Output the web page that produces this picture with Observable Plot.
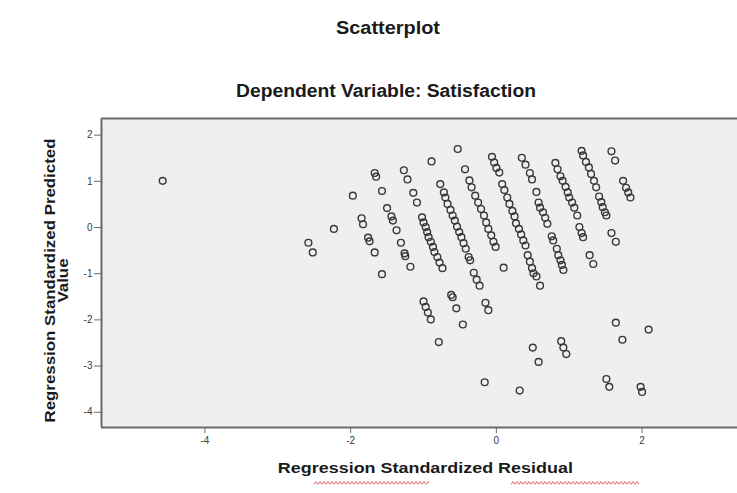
<!DOCTYPE html>
<html>
<head>
<meta charset="utf-8">
<script src="https://cdn.jsdelivr.net/npm/d3@7"></script>
<script src="https://cdn.jsdelivr.net/npm/@observablehq/plot@0.6"></script>
<style>
  html, body { margin: 0; padding: 0; background: #ffffff; }
  #wrap { position: relative; width: 737px; height: 493px; overflow: hidden; font-family: "Liberation Sans", Arial, sans-serif; }
  #wrap svg { position: absolute; left: 0; top: 0; }
  .lbl { position: absolute; font-weight: bold; color: #1a1a1a; white-space: nowrap; line-height: 1; }
  .sq { position: absolute; height: 4px; opacity: 0.85;
        background-image: url("data:image/svg+xml;utf8,<svg xmlns='http://www.w3.org/2000/svg' width='4' height='4'><polyline points='0,3.5 2,0.5 4,3.5' fill='none' stroke='%23d03c3c' stroke-width='0.9'/></svg>");
        background-repeat: repeat-x; }
</style>
</head>
<body>
<div id="wrap"></div>
<script>
// ---- Text ----
const titleText = "Scatterplot";
const subtitleText = "Dependent Variable: Satisfaction";
const xLabelText = "Regression Standardized Residual";
const yLabelLines = ["Regression Standardized Predicted", "Value"];

// ---- Axis ticks ----
const xTicks = [-4, -2, 0, 2];
const yTicks = [2, 1, 0, -1, -2, -3, -4];
const xDomain = [-5.42, 3.31];
const yDomain = [-4.33, 2.36];

// ---- Data: regression standardized residual (x) and standardized predicted value (y) ----
const residual = [
  // scattered, left
  -4.58, -2.58, -2.52, -2.23, -1.97, -1.67, -1.65, -1.85, -1.83, -1.76, -1.74, -1.67, -1.57, -1.50,
  -1.44, -1.42, -1.37, -1.31, -1.26, -1.25, -1.18, -1.57, -1.27, -1.22, -1.14, -1.09, -0.89, -0.53,
  // band A
  -1.02, -1.00, -0.97, -0.95, -0.93, -0.90, -0.87, -0.85, -0.81, -0.78, -0.74,
  // band B
  -0.77, -0.72, -0.70, -0.67, -0.63, -0.60, -0.57, -0.54, -0.51, -0.48, -0.45, -0.42, -0.38, -0.36,
  -0.31, -0.27, -0.23,
  // band C
  -0.43, -0.37, -0.34, -0.29, -0.25, -0.21, -0.17, -0.14, -0.11, -0.07, -0.04, -0.01, 0.10,
  // band D
  -0.06, -0.03, 0.00, 0.04, 0.08, 0.11, 0.15, 0.18, 0.22, 0.25, 0.27, 0.31, 0.34, 0.37, 0.40, 0.43,
  0.46, 0.49, 0.51, 0.55, 0.60,
  // band E
  0.35, 0.40, 0.46, 0.49, 0.55, 0.58, 0.60, 0.64, 0.67, 0.70, 0.76, 0.78, 0.83, 0.85, 0.88, 0.90, 0.92,
  // band F
  0.81, 0.84, 0.88, 0.91, 0.95, 0.98, 1.00, 1.04, 1.07, 1.11, 1.14, 1.17, 1.19, 1.28, 1.33,
  // band G
  1.17, 1.19, 1.23, 1.27, 1.30, 1.34, 1.37, 1.41, 1.44, 1.46, 1.49, 1.51,
  // right
  1.58, 1.63, 1.74, 1.78, 1.81, 1.84, 1.58, 1.64,
  // lower
  -1.00, -0.97, -0.94, -0.90, -0.79, -0.62, -0.60, -0.55, -0.46, -0.15, -0.11, -0.16, 0.50, 0.58,
  0.32, 0.89, 0.92, 0.96, 1.51, 1.55, 1.64, 1.73, 2.09, 1.98, 2.00
];
const predicted = [
  // scattered, left
  1.01, -0.33, -0.54, -0.03, 0.69, 1.18, 1.10, 0.20, 0.07, -0.22, -0.30, -0.54, 0.79, 0.42,
  0.24, 0.15, -0.06, -0.33, -0.56, -0.62, -0.85, -1.01, 1.24, 1.04, 0.75, 0.54, 1.43, 1.70,
  // band A
  0.22, 0.11, 0.01, -0.10, -0.21, -0.31, -0.42, -0.53, -0.64, -0.76, -0.88,
  // band B
  0.94, 0.76, 0.65, 0.51, 0.38, 0.26, 0.15, 0.02, -0.10, -0.21, -0.34, -0.46, -0.64, -0.71,
  -0.98, -1.13, -1.26,
  // band C
  1.26, 1.02, 0.87, 0.69, 0.54, 0.40, 0.26, 0.11, -0.03, -0.17, -0.31, -0.42, -0.87,
  // band D
  1.53, 1.41, 1.29, 1.19, 0.94, 0.81, 0.65, 0.51, 0.36, 0.24, 0.09, -0.03, -0.15, -0.28, -0.39, -0.60,
  -0.74, -0.88, -0.99, -1.06, -1.26,
  // band E
  1.51, 1.36, 1.18, 1.04, 0.77, 0.54, 0.43, 0.33, 0.21, 0.08, -0.19, -0.28, -0.46, -0.60, -0.71, -0.81, -0.92,
  // band F
  1.40, 1.26, 1.11, 1.01, 0.88, 0.76, 0.65, 0.54, 0.43, 0.26, 0.01, -0.12, -0.21, -0.60, -0.79,
  // band G
  1.66, 1.56, 1.42, 1.30, 1.16, 1.01, 0.87, 0.67, 0.55, 0.44, 0.33, 0.26,
  // right
  1.65, 1.45, 1.01, 0.86, 0.76, 0.65, -0.12, -0.31,
  // lower
  -1.60, -1.72, -1.84, -1.99, -2.48, -1.46, -1.51, -1.75, -2.10, -1.63, -1.79, -3.35, -2.60, -2.91,
  -3.53, -2.46, -2.60, -2.74, -3.28, -3.45, -2.06, -2.43, -2.21, -3.45, -3.56
];

const points = residual.map((r, i) => ({r, p: predicted[i]}));

const wrap = document.getElementById("wrap");
const axisColor = "#6a6a6a";

const chart = Plot.plot({
  width: 737,
  height: 493,
  marginLeft: 101,
  marginRight: 0,
  marginTop: 118,
  marginBottom: 66,
  style: { background: "transparent", fontFamily: "'Liberation Sans', Arial, sans-serif", color: "#3a3a3a", overflow: "visible" },
  x: { domain: xDomain },
  y: { domain: yDomain },
  marks: [
    Plot.frame({ fill: "#efefef", stroke: null }),
    Plot.ruleY([yDomain[1]], { stroke: axisColor, strokeWidth: 2 }),
    Plot.ruleY([yDomain[0]], { stroke: axisColor, strokeWidth: 2 }),
    Plot.ruleX([xDomain[0]], { stroke: axisColor, strokeWidth: 2 }),
    Plot.dot(points, { x: "r", y: "p", r: 3.4, stroke: "#383838", strokeWidth: 1.4, fill: "none" }),
    Plot.axisX({ ticks: xTicks, tickFormat: d => String(d), tickSize: 6, tickPadding: 3, fontSize: 10, stroke: axisColor, label: null }),
    Plot.axisY({ ticks: yTicks, tickFormat: d => String(d), tickSize: 7, tickPadding: 2, fontSize: 10, stroke: axisColor, label: null })
  ]
});
wrap.appendChild(chart);

// ---- Overlaid labels, scaled to the reference widths ----
function addLabel(text, cx, cy, fontSize, scaleOrWidth, rotate, isScale) {
  const el = document.createElement("div");
  el.className = "lbl";
  el.textContent = text;
  el.style.fontSize = fontSize + "px";
  wrap.appendChild(el);
  const w = el.getBoundingClientRect().width;
  const h = el.getBoundingClientRect().height;
  const k = isScale ? scaleOrWidth : scaleOrWidth / w;
  el.style.left = (cx - w / 2) + "px";
  el.style.top = (cy - h / 2) + "px";
  el.style.transformOrigin = "50% 50%";
  el.style.transform = (rotate ? "rotate(-90deg) " : "") + "scaleX(" + k + ")";
  return k;
}
addLabel(titleText, 388, 28, 18, 104, false, false);
addLabel(subtitleText, 386, 91, 18, 300, false, false);
addLabel(xLabelText, 425, 467, 15, 295, false, false);
const ky = addLabel(yLabelLines[0], 49, 280, 15, 284, true, false);
addLabel(yLabelLines[1], 63, 280, 15, ky, true, true);

// spell-check squiggles under the axis title
[[314, 429], [511, 639]].forEach(([a, b]) => {
  const s = document.createElement("div");
  s.className = "sq";
  s.style.left = a + "px";
  s.style.top = "481px";
  s.style.width = (b - a) + "px";
  wrap.appendChild(s);
});
</script>
</body>
</html>
